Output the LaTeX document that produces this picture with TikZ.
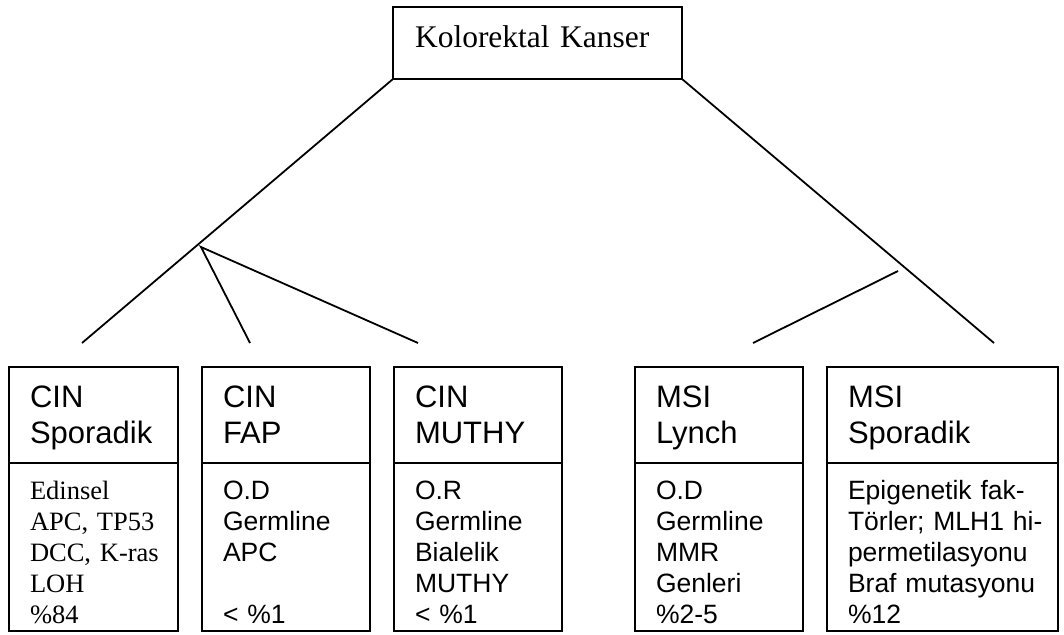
\documentclass[tikz,border=0pt]{standalone}
\usepackage{fontspec}
\setmainfont{Liberation Serif}
\newfontfamily\arialfont{Liberation Sans}

\begin{document}
\begin{tikzpicture}[x=1pt, y=-1pt, line width=1.8pt,
		baslik/.style={draw, anchor=north west, outer sep=0pt, inner xsep=21pt, align=left, minimum height=96pt, text height=22pt, text depth=38pt, font=\arialfont\fontsize{31}{36.5}\selectfont},
		govde/.style={draw, anchor=north west, outer sep=0pt, inner xsep=21pt, align=left, minimum height=168pt, text height=20pt, text depth=116pt, font=\arialfont\fontsize{26.5}{31}\selectfont}]
			\useasboundingbox (0,0) rectangle (1064,634);
			
			\node[draw, outer sep=0pt, inner xsep=22pt, text width=245pt, align=left, minimum height=72pt, text depth=12pt, font=\fontsize{31.5}{38}\selectfont] (kk) at (537.5,43) {Kolorektal Kanser};
			
			\node[baslik, text width=127pt] (cinsp) at (9,367) {CIN\\Sporadik};
			\node[govde, text width=127pt, font=\rmfamily\fontsize{26.5}{31}\selectfont] (cinspb) at (9,463) {Edinsel\\\mbox{APC, TP53}\\\mbox{DCC, K-ras}\\LOH\\\%84};
			
			\node[baslik, text width=126pt] (cinfap) at (202,367) {CIN\\FAP};
			\node[govde, text width=126pt] (cinfapb) at (202,463) {O.D\\Germline\\APC\\\mbox{}\\< \%1};
			
			\node[baslik, text width=126pt] (cinmut) at (394,367) {CIN\\MUTHY};
			\node[govde, text width=126pt] (cinmutb) at (394,463) {O.R\\Germline\\Bialelik\\MUTHY\\< \%1};
			
			\node[baslik, text width=126pt] (msily) at (635,367) {MSI\\Lynch};
			\node[govde, text width=126pt] (msilyb) at (635,463) {O.D\\Germline\\MMR\\Genleri\\\%2-5};
			
			\node[baslik, text width=189pt] (msisp) at (827,367) {MSI\\Sporadik};
			\node[govde, text width=189pt] (msispb) at (827,463) {\mbox{Epigenetik fak-}\\\mbox{Törler; MLH1 hi-}\\permetilasyonu\\\mbox{Braf mutasyonu}\\\%12};
			
			\coordinate (cinl) at (82,343);
			\coordinate (cinfork) at (201,247);
			\coordinate (cinf) at (250,343);
			\coordinate (cinm) at (418,343);
			\coordinate (msifork) at (898,271);
			\coordinate (msil) at (753,343);
			\coordinate (msir) at (994,343);
			
			\draw (kk.south west) -- (cinl);
			\draw (cinf) -- (cinfork) -- (cinm);
			\draw (kk.south east) -- (msir);
			\draw (msifork) -- (msil);
		\end{tikzpicture}
\end{document}
